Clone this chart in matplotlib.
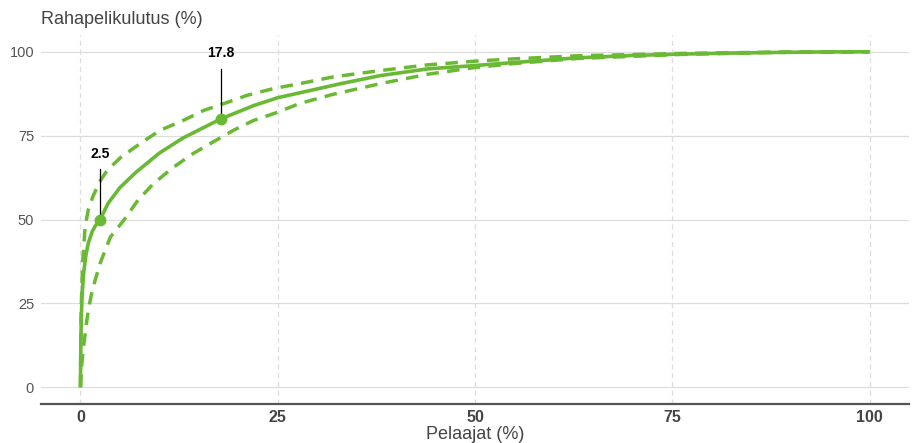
import matplotlib
matplotlib.use("Agg")
import matplotlib.pyplot as plt

# Main concentration curve
x_main = [0, 0.05, 0.1, 0.2, 0.4, 0.7, 1.0, 1.5, 2.0, 2.5, 3.5, 5, 7, 10, 13, 17.8,
          22, 25, 29, 33, 38, 44, 50, 55, 63, 70, 76, 82, 88, 94, 100]
y_main = [0, 12, 20, 27, 34, 39.5, 43, 46.5, 48.5, 50, 54.8, 59.5, 64, 69.8, 74.3, 80,
          84, 86.3, 88.4, 90.5, 92.9, 94.9, 95.9, 96.8, 98.2, 98.9, 99.3, 99.6, 99.8, 99.95, 100]

# Upper confidence band
x_up = [0, 0.05, 0.1, 0.3, 0.6, 1.0, 1.6, 2.5, 3.4, 5.1, 7.6, 10.1, 13, 15.6, 18.6,
        21.1, 24.4, 27.8, 32, 38, 44, 50, 55, 63, 76, 88, 100]
y_up = [0, 15, 24, 38, 48, 53, 57, 61.5, 64.7, 68.5, 72.7, 76.6, 79.5, 82.5, 84.9,
        87, 89, 90.5, 92.5, 94.4, 96.1, 97.2, 97.9, 98.8, 99.5, 99.9, 100]

# Lower confidence band
x_lo = [0, 0.1, 0.3, 0.7, 1.0, 1.5, 2.5, 3.8, 5.5, 7.3, 9.3, 11.8, 14.3, 16.5, 19.4,
        21.9, 24.9, 27.8, 32, 38, 44, 50, 55, 63, 76, 88, 100]
y_lo = [0, 5, 10, 18, 23, 29, 37, 44.8, 49.8, 55.8, 60.8, 65.6, 69.7, 72.7, 76.6,
        79.5, 81.9, 84.6, 87.3, 90.5, 93.3, 95.3, 96.5, 98.0, 99.2, 99.8, 100]

# Highlighted points
pt_x = [2.5, 17.8]
pt_y = [50, 80]
pt_labels = ["2.5", "17.8"]

ticks = [0, 25, 50, 75, 100]

green = "#6ab934"

fig = plt.figure(figsize=(9.15, 4.43), dpi=100)
ax = fig.add_axes([0.0448, 0.088, 0.9486, 0.833])
ax.set_xlim(-5, 105)
ax.set_ylim(-5, 105)

ax.plot(x_up, y_up, color=green, lw=2.5, linestyle=(0, (3.6, 2.4)), solid_capstyle="butt")
ax.plot(x_lo, y_lo, color=green, lw=2.5, linestyle=(0, (3.6, 2.4)), solid_capstyle="butt")
ax.plot(x_main, y_main, color=green, lw=2.6, solid_capstyle="butt")

ax.plot(pt_x, pt_y, "o", color=green, markersize=7.5, zorder=5)
for px, py, lab in zip(pt_x, pt_y, pt_labels):
    ax.plot([px, px], [py, py + 15], color="black", lw=0.9, zorder=4)
    ax.text(px, py + 19.5, lab, ha="center", va="center", fontsize=10,
            fontweight="bold", family="Liberation Sans", color="black")

ax.set_xticks(ticks)
ax.set_yticks(ticks)
ax.set_xticklabels([str(t) for t in ticks], fontweight="bold", fontsize=11.5,
                   family="Liberation Sans", color="#444444")
ax.set_yticklabels([str(t) for t in ticks], fontsize=10.5,
                   family="Liberation Sans", color="#555555")
ax.tick_params(axis="both", length=0)
ax.tick_params(axis="x", pad=4.3)
ax.tick_params(axis="y", pad=5)

ax.grid(axis="y", color="#dddddd", lw=0.9, linestyle="-")
ax.grid(axis="x", color="#dddddd", lw=0.9, linestyle=(0, (4, 3)))
ax.set_axisbelow(True)

for s in ["top", "right", "left"]:
    ax.spines[s].set_visible(False)
ax.spines["bottom"].set_color("#555555")
ax.spines["bottom"].set_linewidth(1.6)

fig.text(475 / 915, (443 - 439) / 443, "Pelaajat (%)", fontsize=13,
         family="Liberation Sans", color="#444444", ha="center", va="baseline")
fig.text(41 / 915, 1 - 20 / 443, "Rahapelikulutus (%)", fontsize=13,
         family="Liberation Sans", color="#444444", ha="left", va="center")

fig.savefig("out.png", dpi=100, facecolor="white")
